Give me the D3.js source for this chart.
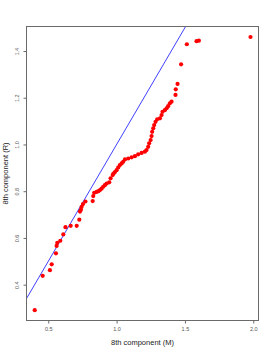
<!DOCTYPE html>
<html>
<head>
<meta charset="utf-8">
<script src="https://cdn.jsdelivr.net/npm/d3@7"></script>
<style>
  body { margin: 0; background: #fff; }
  svg { display: block; font-family: "Liberation Sans", Arial, sans-serif; }
</style>
</head>
<body>
<svg></svg>
<script>
// sorted quantiles, M on x, R on y
var mValues = [0.401, 0.459, 0.512, 0.525, 0.556, 0.561, 0.566, 0.588, 0.610, 0.626,
  0.664, 0.708, 0.727, 0.732, 0.739, 0.744, 0.754, 0.772, 0.825, 0.829,
  0.836, 0.854, 0.867, 0.878, 0.890, 0.902, 0.914, 0.927, 0.946, 0.956,
  0.971, 0.977, 0.988, 1.000, 1.012, 1.024, 1.037, 1.048, 1.061, 1.085,
  1.110, 1.134, 1.158, 1.183, 1.207, 1.219, 1.231, 1.238, 1.249, 1.256,
  1.260, 1.268, 1.275, 1.285, 1.297, 1.317, 1.329, 1.336, 1.353, 1.366,
  1.377, 1.390, 1.402, 1.431, 1.433, 1.446, 1.472, 1.514, 1.585, 1.602, 1.980];
var rValues = [0.291, 0.438, 0.462, 0.487, 0.534, 0.566, 0.579, 0.588, 0.615, 0.646,
  0.652, 0.652, 0.678, 0.713, 0.721, 0.733, 0.745, 0.756, 0.758, 0.779,
  0.793, 0.797, 0.800, 0.805, 0.811, 0.819, 0.826, 0.833, 0.838, 0.855,
  0.869, 0.875, 0.882, 0.890, 0.902, 0.912, 0.919, 0.926, 0.936, 0.940,
  0.945, 0.950, 0.958, 0.964, 0.969, 0.976, 0.990, 1.005, 1.019, 1.036,
  1.054, 1.069, 1.083, 1.097, 1.108, 1.112, 1.126, 1.140, 1.147, 1.155,
  1.164, 1.176, 1.183, 1.212, 1.236, 1.259, 1.343, 1.429, 1.442, 1.444, 1.460];
var xTicks = [0.5, 1.0, 1.5, 2.0];
var yTicks = [0.4, 0.6, 0.8, 1.0, 1.2, 1.4];
var xLabel = "8th component (M)";
var yLabel = "8th component (R)";

var width = 273, height = 354;
var margin = { top: 26, right: 14, bottom: 33, left: 26 };

var svg = d3.select("svg")
  .attr("width", width)
  .attr("height", height);

// scales (R style: 4% padding around data range)
var x = d3.scaleLinear()
  .domain([0.337, 2.042])
  .range([margin.left, width - margin.right]);
var y = d3.scaleLinear()
  .domain([0.2446, 1.507])
  .range([height - margin.bottom, margin.top]);

var points = mValues.map(function(m, i) { return { m: m, r: rValues[i] }; });

// clip for the reference line
svg.append("clipPath").attr("id", "plotClip")
  .append("rect")
  .attr("x", margin.left).attr("y", margin.top)
  .attr("width", width - margin.left - margin.right)
  .attr("height", height - margin.top - margin.bottom);

// y = x line
svg.append("line")
  .attr("clip-path", "url(#plotClip)")
  .attr("x1", x(0.2)).attr("y1", y(0.2))
  .attr("x2", x(1.6)).attr("y2", y(1.6))
  .attr("stroke", "#2a2aff")
  .attr("stroke-width", 0.9);

// points
svg.selectAll("circle.pt")
  .data(points)
  .enter()
  .append("circle")
  .attr("class", "pt")
  .attr("cx", function(d) { return x(d.m); })
  .attr("cy", function(d) { return y(d.r); })
  .attr("r", 2.1)
  .attr("fill", "#ff0000");

// box
svg.append("rect")
  .attr("x", margin.left + 0.5).attr("y", margin.top + 0.5)
  .attr("width", width - margin.left - margin.right - 1)
  .attr("height", height - margin.top - margin.bottom - 1)
  .attr("fill", "none")
  .attr("stroke", "#6a6a6a")
  .attr("stroke-width", 1);

// axes
var xAxis = svg.append("g")
  .attr("transform", "translate(0," + (height - margin.bottom - 0.5) + ")")
  .call(d3.axisBottom(x).tickValues(xTicks).tickFormat(d3.format(".1f")).tickSize(3).tickPadding(4));
var yAxis = svg.append("g")
  .attr("transform", "translate(" + (margin.left + 0.5) + ",0)")
  .call(d3.axisLeft(y).tickValues(yTicks).tickFormat(d3.format(".1f")).tickSize(3).tickPadding(4));

[xAxis, yAxis].forEach(function(g) {
  g.select(".domain").remove();
  g.selectAll("line").attr("stroke", "#6a6a6a");
  g.selectAll("text").attr("fill", "#555").style("font-size", "5.5px").style("font-family", "Liberation Sans, Arial, sans-serif");
});

// rotate y tick labels like R
yAxis.selectAll(".tick text")
  .attr("x", null).attr("dy", null)
  .attr("transform", "translate(-9,0) rotate(-90)")
  .attr("text-anchor", "middle")
  .attr("dy", "0.35em");

// axis titles
svg.append("text")
  .attr("x", (margin.left + width - margin.right) / 2)
  .attr("y", 345)
  .attr("text-anchor", "middle")
  .attr("fill", "#222")
  .style("font-size", "7.5px")
  .text(xLabel);

svg.append("text")
  .attr("transform", "translate(8," + ((margin.top + height - margin.bottom) / 2) + ") rotate(-90)")
  .attr("text-anchor", "middle")
  .attr("fill", "#222")
  .style("font-size", "7.5px")
  .text(yLabel);
</script>
</body>
</html>
